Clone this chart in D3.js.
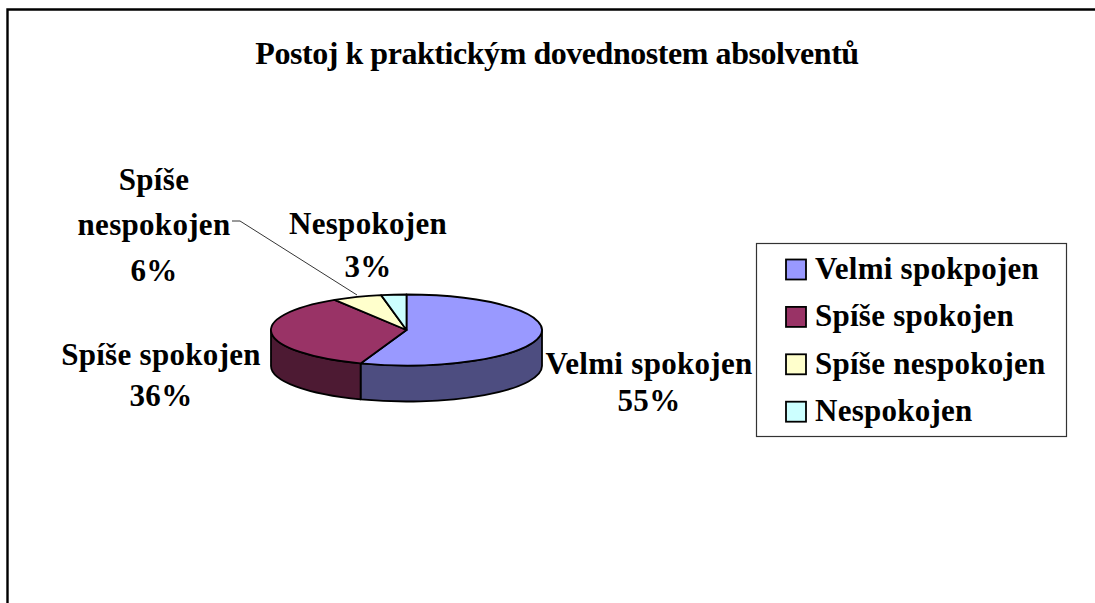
<!DOCTYPE html>
<html><head><meta charset="utf-8">
<script src="https://cdn.jsdelivr.net/npm/d3@7"></script>
<style>html,body{margin:0;padding:0;background:#fff}svg{display:block}
text{font-family:"Liberation Serif",serif;font-weight:bold;fill:#000}</style></head>
<body><svg id="c" width="1095" height="603"></svg>
<script>
const titleText = "Postoj k praktickým dovednostem absolventů";
const sliceNames = ["Velmi spokojen","Spíše spokojen","Spíše nespokojen","Nespokojen"];
const legendNames = ["Velmi spokpojen","Spíše spokojen","Spíše nespokojen","Nespokojen"];
const sliceValues = [55.5,35.6,5.9,3];
const percentLabels = ["55%","36%","6%","3%"];
const topColors = ["#9999FF","#993366","#FFFFCC","#CCFFFF"];
const sideColors = ["#4D4D80","#4D1A33","#80806A","#6A8080"];

const svg = d3.select("#c");
const W=1095,H=603;
svg.append("path").attr("d",`M7.5,${H+5}V9.5H${W+5}`).attr("fill","none").attr("stroke","#000").attr("stroke-width",2.4);
svg.append("text").attr("x",557).attr("y",64).attr("text-anchor","middle").attr("font-size",32).attr("letter-spacing",-0.45).text(titleText);

const cx=406.5,cy=330,rx=135.5,ry=35.5,depth=36;
const arcs=d3.pie().sort(null).value(d=>d)(sliceValues);
const px=a=>cx+rx*Math.sin(a), py=a=>cy-ry*Math.cos(a);
const pie=svg.append("g");
arcs.forEach((d,i)=>{
  const a0=Math.max(d.startAngle,Math.PI/2), a1=Math.min(d.endAngle,Math.PI*1.5);
  if(a1<=a0) return;
  const p=`M${px(a0)},${py(a0)}A${rx},${ry} 0 0 1 ${px(a1)},${py(a1)}`+
    `L${px(a1)},${py(a1)+depth}A${rx},${ry} 0 0 0 ${px(a0)},${py(a0)+depth}Z`;
  pie.append("path").attr("d",p).attr("fill",sideColors[i]).attr("stroke","#000").attr("stroke-width",1.8).attr("stroke-linejoin","round");
});
arcs.forEach((d,i)=>{
  const large=d.endAngle-d.startAngle>Math.PI?1:0;
  const p=`M${cx},${cy}L${px(d.startAngle)},${py(d.startAngle)}A${rx},${ry} 0 ${large} 1 ${px(d.endAngle)},${py(d.endAngle)}Z`;
  pie.append("path").attr("d",p).attr("fill",topColors[i]).attr("stroke","#000").attr("stroke-width",1.8).attr("stroke-linejoin","round");
});

svg.append("path").attr("d","M232,221H240L357,295").attr("fill","none").attr("stroke","#000").attr("stroke-width",0.8);

const labelAnchors=[[649,[374,411]],[161,[365,406]],[154,[190,235,281]],[368,[234,277]]];
const lab=svg.append("g").attr("font-size",31).attr("text-anchor","middle").attr("letter-spacing",0.3);
sliceNames.forEach((n,i)=>{
  const [x,ys]=labelAnchors[i];
  const lines = i===2 ? ["Spíše","nespokojen",percentLabels[i]] : [n,percentLabels[i]];
  lines.forEach((t,j)=>lab.append("text").attr("x",x).attr("y",ys[j]).text(t));
});

svg.append("rect").attr("x",756.5).attr("y",243.5).attr("width",310).attr("height",193).attr("fill","#fff").attr("stroke","#333").attr("stroke-width",1.2);
const lg=svg.append("g");
legendNames.forEach((n,i)=>{
  const y=259.5+i*47.4;
  lg.append("rect").attr("x",786).attr("y",y).attr("width",20).attr("height",20).attr("fill",topColors[i]).attr("stroke","#000").attr("stroke-width",1.8);
  lg.append("text").attr("x",815).attr("y",y+19.5).attr("font-size",31).attr("letter-spacing",0.25).text(n);
});
</script></body></html>
